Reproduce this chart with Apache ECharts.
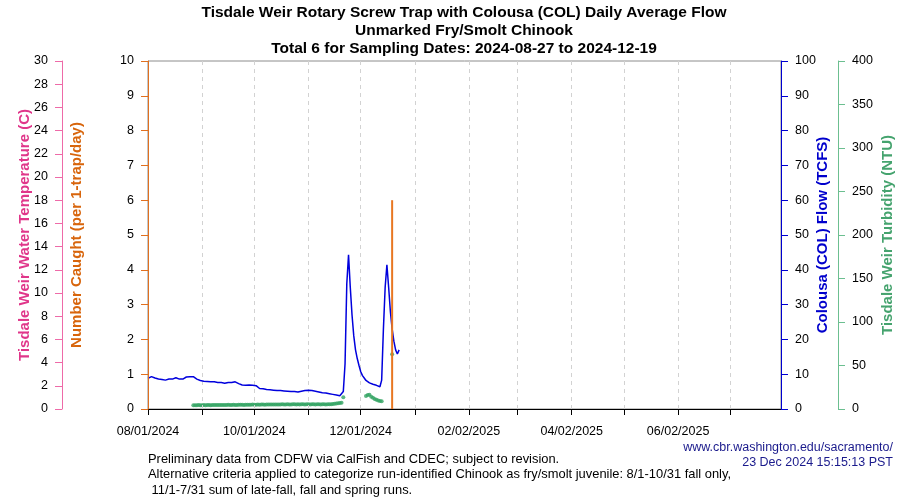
<!DOCTYPE html>
<html>
<head>
<meta charset="utf-8">
<script src="https://cdn.jsdelivr.net/npm/echarts@6/dist/echarts.min.js"></script>
<style>html,body{margin:0;padding:0;background:#fff}#c{width:900px;height:500px}</style>
</head>
<body>
<div id="c"></div>
<script>
// x values are day numbers counted from 2024-08-01 (day 0)
var tickDays = [0, 31, 61, 92, 122, 153, 184, 212, 243, 273, 304, 334];
var labelDays = [0, 61, 122, 184, 243, 304];
var tickLabels = ['08/01/2024', '10/01/2024', '12/01/2024', '02/02/2025', '04/02/2025', '06/02/2025'];

// Colousa (COL) daily average flow (TCFS), day 0 .. 144
var flowStartDay = 0;
var flowValues = [
  8.8, 9.1, 9.3, 9.1, 8.9, 8.7, 8.6,
  8.5, 8.5, 8.4, 8.3, 8.4, 8.6, 8.5,
  8.6, 8.7, 9.0, 8.8, 8.6, 8.5, 8.6,
  8.9, 9.2, 9.3, 9.3, 9.2, 9.3, 9.0,
  8.6, 8.3, 8.2,
  8.1, 8.0, 7.9, 7.9, 7.8, 7.8, 7.7,
  7.8, 7.7, 7.6, 7.7, 7.6, 7.5, 7.4,
  7.5, 7.6, 7.7, 7.6, 7.7, 7.8, 7.6,
  7.3, 7.0, 6.9, 6.9, 6.8, 6.8, 6.9, 6.8, 6.8,
  6.8, 6.7, 6.3, 5.9, 5.8, 5.8, 5.7,
  5.6, 5.5, 5.5, 5.5, 5.4, 5.4, 5.3,
  5.3, 5.3, 5.3, 5.2, 5.2, 5.1, 5.1,
  5.0, 5.0, 5.0, 4.9, 4.9, 5.0, 5.1,
  5.2, 5.3, 5.3, 5.4, 5.4, 5.3, 5.2,
  5.1, 5.0, 4.9, 4.8, 4.7, 4.6, 4.6,
  4.5, 4.4, 4.3, 4.2, 4.1, 4.0, 3.9,
  3.8, 3.5, 5.0,
  13, 36, 44.3, 35, 27, 21, 17, 14.5, 12.5,
  10.7, 9.6, 8.9, 8.2, 7.8, 7.5, 7.3, 7.1, 6.9, 6.8, 6.6, 6.4,
  8.3, 23, 35, 41.4, 35, 28, 23, 19.5, 17, 15.8, 17
];

// Tisdale Weir turbidity (NTU), day 26 .. 140 (null = no reading)
var turbStartDay = 26;
var turbValues = [
  4.2, 4.4, 4.3, 4.5, 4.4, 4.3, 4.5,
  4.4, 4.6, 4.5, 4.4, 4.5, 4.6, 4.5,
  4.6, 4.5, 4.7, 4.6, 4.5, 4.7, 4.8,
  4.6, 4.7, 4.8, 4.7, 4.6, 4.8, 4.9,
  4.8, 4.7, 4.9, 5.0, 4.8, 4.9, 5.1,
  5.0, 4.9, 5.1, 5.0, 5.2, 5.1, 5.0,
  5.2, 5.1, 5.3, 5.2, 5.1, 5.3, 5.2,
  5.3, 5.2, 5.4, 5.3, 5.2, 5.4, 5.3,
  5.2, 5.4, 5.5, 5.3, 5.4, 5.2, 5.4,
  5.5, 5.3, 5.6, 5.4, 5.3, 5.5, 5.4,
  5.3, 5.5, 5.4, 5.2, 5.4, 5.5, 5.3,
  5.4, 5.6, 5.5, 5.7, 5.9, 6.2, 6.5,
  6.8, 7.2, 13.5,
  null, null, null, null, null, null, null, null, null, null, null, null,
  15, 16, 16.5, 14, 13, 11.5, 10.5, 9.8, 9.3, 9.0,
  null, null, null, null, null,
  63
];

// Unmarked fry/smolt Chinook caught (per 1-trap/day)
var catchDays = [140];
var catchValues = [6];

var flowData = flowValues.map(function (v, i) { return [flowStartDay + i, v]; });
var turbData = [];
turbValues.forEach(function (v, i) { if (v !== null) turbData.push([turbStartDay + i, v]); });
var catchData = catchDays.map(function (d, i) { return [d, catchValues[i]]; });

var FONT = 'Liberation Sans, Arial, sans-serif';
var chart = echarts.init(document.getElementById('c'), null, {renderer: 'canvas'});

function yAx(opt) {
  return Object.assign({
    type: 'value',
    nameLocation: 'middle',
    nameRotate: 90,
    nameMoveOverlap: false,
    splitLine: {show: false},
    z: 4,
    axisLine: {show: true, onZero: false, lineStyle: {color: opt.lineColor, width: 1}},
    axisTick: {show: true, length: 7, lineStyle: {color: opt.lineColor}},
    axisLabel: {color: '#000', fontSize: 12.5, fontFamily: FONT, margin: 14},
    nameTextStyle: {color: opt.nameColor, fontWeight: 'bold', fontSize: 15, fontFamily: FONT}
  }, opt.extra);
}

chart.setOption({
  animation: false,
  backgroundColor: '#fff',
  title: {
    text: 'Tisdale Weir Rotary Screw Trap with Colousa (COL) Daily Average Flow\nUnmarked Fry/Smolt Chinook\nTotal 6 for Sampling Dates: 2024-08-27 to 2024-12-19',
    left: 464, top: 4, textAlign: 'center', padding: 0,
    textStyle: {fontSize: 15.5, fontWeight: 'bold', fontFamily: FONT, lineHeight: 18, color: '#000'}
  },
  grid: {left: 148, right: 119, top: 61, bottom: 91, show: true, borderColor: '#8c8c8c', borderWidth: 1, containLabel: false, outerBoundsMode: 'none'},
  xAxis: {
    type: 'value', min: 0, max: 363, position: 'bottom', z: 3,
    axisLine: {show: true, onZero: false, lineStyle: {color: '#000000', width: 1}},
    axisTick: {show: true, length: 6, customValues: tickDays, lineStyle: {color: '#000'}},
    axisLabel: {
      customValues: labelDays, margin: 16, fontSize: 12.5, fontFamily: FONT, color: '#000',
      formatter: function (v) { var k = labelDays.indexOf(v); return k >= 0 ? tickLabels[k] : ''; }
    },
    splitLine: {show: true, lineStyle: {color: '#d2d2d2', type: [4, 4], width: 1}}
  },
  yAxis: [
    yAx({lineColor: '#e07020', nameColor: '#d8650c', extra: {
      position: 'left', offset: 0, min: 0, max: 10, interval: 1,
      name: 'Number Caught (per 1-trap/day)', nameGap: 64}}),
    yAx({lineColor: '#ee6aa8', nameColor: '#e0368a', extra: {
      position: 'left', offset: 86, min: 0, max: 30, interval: 2,
      name: 'Tisdale Weir Water Temperature (C)', nameGap: 30}}),
    yAx({lineColor: '#0000d0', nameColor: '#0000cc', extra: {
      position: 'right', offset: 0, min: 0, max: 100, interval: 10,
      name: 'Colousa (COL) Flow (TCFS)', nameGap: 34}}),
    yAx({lineColor: '#6cbf90', nameColor: '#45a36e', extra: {
      position: 'right', offset: 57, min: 0, max: 400, interval: 50,
      name: 'Tisdale Weir Turbidity (NTU)', nameGap: 42}})
  ],
  series: [
    {
      name: 'Turbidity', type: 'scatter', yAxisIndex: 3, data: turbData,
      symbol: 'circle', symbolSize: 4, itemStyle: {color: '#33a463'}, z: 2
    },
    {
      name: 'Flow', type: 'line', yAxisIndex: 2, data: flowData,
      showSymbol: false, symbol: 'none', lineStyle: {color: '#0000dd', width: 1.5}, z: 3
    },
    {
      name: 'Caught', type: 'bar', yAxisIndex: 0, data: catchData,
      barWidth: 2, itemStyle: {color: '#e87722'}, z: 4
    }
  ],
  graphic: [
    {type: 'text', right: 7, top: 441, style: {text: 'www.cbr.washington.edu/sacramento/', fill: '#1a1a8c', font: '12.5px ' + FONT, textAlign: 'right'}},
    {type: 'text', right: 7, top: 456, style: {text: '23 Dec 2024 15:15:13 PST', fill: '#1a1a8c', font: '12.5px ' + FONT, textAlign: 'right'}},
    {type: 'text', left: 148, top: 453, style: {text: 'Preliminary data from CDFW via CalFish and CDEC; subject to revision.', fill: '#000', font: '12.9px ' + FONT}},
    {type: 'text', left: 148, top: 468, style: {text: 'Alternative criteria applied to categorize run-identified Chinook as fry/smolt juvenile: 8/1-10/31 fall only,', fill: '#000', font: '12.9px ' + FONT}},
    {type: 'text', left: 148, top: 484, style: {text: ' 11/1-7/31 sum of late-fall, fall and spring runs.', fill: '#000', font: '12.9px ' + FONT}}
  ]
});
</script>
</body>
</html>
